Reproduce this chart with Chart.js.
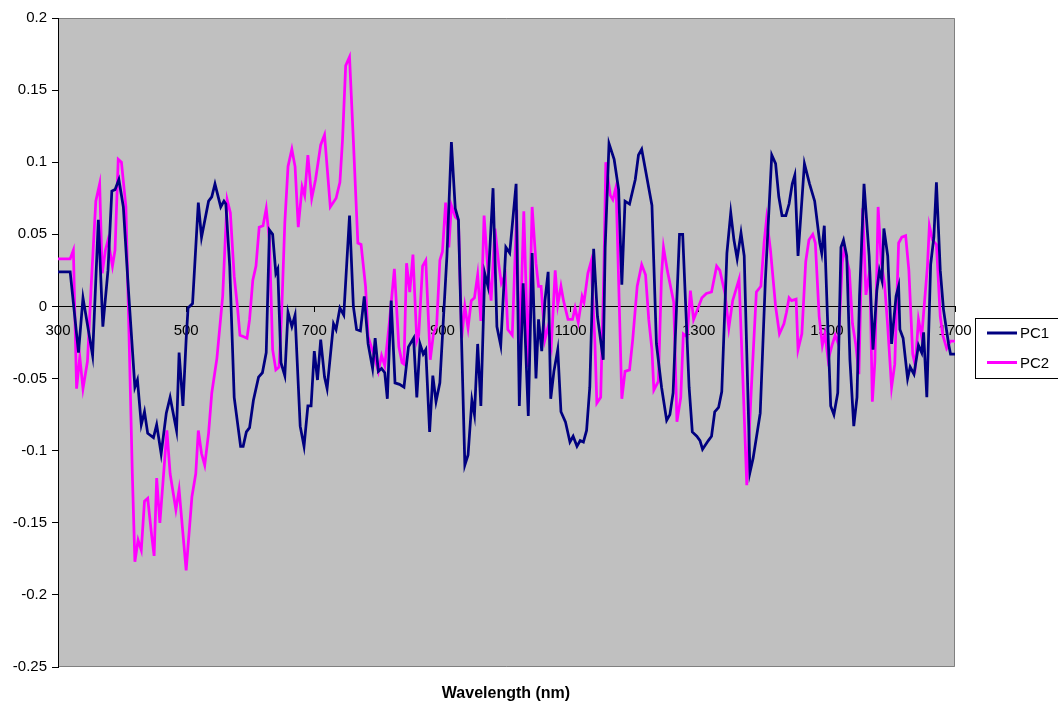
<!DOCTYPE html>
<html>
<head>
<meta charset="utf-8">
<script src="https://cdn.jsdelivr.net/npm/chart.js@4/dist/chart.umd.min.js"></script>
<style>
html,body{margin:0;padding:0;background:#fff;}
canvas{display:block;}
</style>
</head>
<body>
<canvas id="c" width="1058" height="706"></canvas>
<script>
// ---- data ----
const pc1Wavelength = [300,319,332,339,354,363,370,378,384,389,395,402,410,420,424,430,435,440,449,454,461,469,475,485,489,495,500,503,510,519,524,535,540,545,554,559,562,568,575,585,589,594,599,605,613,619,625,630,635,640,643,648,654,659,665,670,678,684,690,695,700,705,710,716,720,730,734,740,746,755,761,766,772,778,784,791,795,800,805,810,814,820,826,833,840,847,855,860,865,870,874,880,885,890,896,907,914,920,925,930,935,940,946,950,955,960,966,971,979,985,991,999,1005,1015,1020,1026,1034,1040,1046,1050,1055,1060,1065,1069,1074,1080,1085,1092,1099,1104,1110,1115,1120,1125,1130,1136,1142,1151,1154,1160,1168,1175,1180,1185,1192,1201,1206,1211,1218,1227,1234,1242,1250,1255,1260,1270,1275,1285,1290,1297,1302,1306,1315,1320,1325,1331,1336,1344,1350,1355,1360,1366,1371,1380,1385,1396,1404,1414,1420,1425,1430,1436,1441,1446,1450,1455,1465,1473,1481,1489,1492,1496,1502,1506,1511,1517,1522,1526,1531,1536,1542,1547,1551,1558,1566,1572,1578,1582,1586,1589,1595,1601,1608,1612,1614,1619,1626,1630,1636,1643,1648,1651,1656,1662,1667,1671,1677,1682,1690,1693,1700];
const pc1Values = [0.024,0.024,-0.032,0.006,-0.034,0.060,-0.014,0.025,0.080,0.081,0.088,0.069,0.011,-0.056,-0.051,-0.082,-0.073,-0.088,-0.091,-0.082,-0.102,-0.074,-0.063,-0.086,-0.032,-0.069,-0.023,-0.001,0.002,0.072,0.048,0.073,0.076,0.085,0.069,0.073,0.071,0.028,-0.063,-0.097,-0.097,-0.087,-0.084,-0.065,-0.049,-0.046,-0.032,0.053,0.050,0.023,0.026,-0.039,-0.048,-0.004,-0.014,-0.006,-0.083,-0.097,-0.069,-0.069,-0.031,-0.051,-0.023,-0.049,-0.057,-0.012,-0.016,-0.001,-0.006,0.063,0.000,-0.016,-0.017,0.007,-0.026,-0.043,-0.022,-0.045,-0.043,-0.046,-0.064,0.004,-0.053,-0.054,-0.056,-0.028,-0.022,-0.063,-0.026,-0.033,-0.030,-0.087,-0.048,-0.066,-0.053,0.035,0.114,0.068,0.060,-0.026,-0.110,-0.103,-0.065,-0.075,-0.026,-0.069,0.023,0.014,0.082,-0.014,-0.027,0.041,0.037,0.085,-0.069,0.016,-0.076,0.037,-0.050,-0.009,-0.031,0.004,0.024,-0.064,-0.045,-0.030,-0.073,-0.080,-0.094,-0.090,-0.097,-0.093,-0.094,-0.086,-0.056,0.040,-0.007,-0.037,0.041,0.113,0.102,0.081,0.015,0.073,0.071,0.088,0.105,0.109,0.092,0.070,-0.026,-0.056,-0.079,-0.075,-0.060,0.050,0.050,-0.056,-0.087,-0.090,-0.093,-0.099,-0.093,-0.090,-0.073,-0.070,-0.059,0.037,0.065,0.046,0.033,0.051,0.035,-0.115,-0.105,-0.074,0.018,0.105,0.099,0.076,0.063,0.063,0.071,0.085,0.091,0.035,0.099,0.085,0.073,0.044,0.037,0.056,-0.021,-0.069,-0.075,-0.060,0.041,0.046,0.035,-0.037,-0.083,-0.063,0.007,0.085,0.035,-0.030,0.011,0.025,0.018,0.054,0.035,-0.026,0.007,0.014,-0.016,-0.022,-0.050,-0.042,-0.047,-0.027,-0.032,-0.018,-0.063,0.029,0.048,0.086,0.025,-0.002,-0.026,-0.033,-0.033];

const pc2Wavelength = [300,319,324,329,334,339,346,352,359,365,369,374,378,385,389,394,399,406,411,416,420,425,430,435,440,446,450,454,459,470,475,484,489,500,509,515,519,524,529,535,540,548,557,561,564,569,575,580,584,590,595,599,604,609,614,620,625,630,635,640,645,649,654,659,665,670,675,681,685,690,696,702,710,716,725,734,740,744,749,755,761,768,773,780,784,794,800,805,810,817,825,832,837,840,844,849,854,860,863,869,874,881,886,891,896,900,905,910,914,920,925,930,935,940,945,950,955,960,965,971,976,982,988,992,998,1002,1009,1016,1020,1027,1034,1040,1046,1050,1054,1060,1065,1070,1076,1080,1085,1089,1096,1103,1107,1112,1118,1121,1127,1132,1138,1141,1147,1152,1155,1162,1166,1171,1180,1185,1192,1197,1204,1211,1217,1222,1227,1230,1237,1242,1245,1251,1256,1261,1266,1272,1276,1282,1287,1292,1299,1305,1312,1320,1328,1333,1341,1347,1353,1363,1370,1375,1382,1390,1397,1402,1406,1412,1420,1426,1433,1437,1441,1445,1452,1455,1461,1467,1472,1478,1482,1488,1493,1497,1502,1508,1513,1518,1524,1527,1535,1540,1545,1550,1556,1561,1567,1571,1575,1580,1585,1590,1595,1601,1606,1612,1617,1623,1628,1634,1638,1643,1648,1657,1660,1665,1671,1677,1681,1687,1693,1700];
const pc2Values = [0.033,0.033,0.039,-0.057,-0.035,-0.057,-0.038,0.016,0.073,0.085,0.023,0.039,0.046,0.028,0.039,0.102,0.100,0.069,-0.023,-0.116,-0.177,-0.162,-0.169,-0.135,-0.133,-0.158,-0.173,-0.119,-0.150,-0.086,-0.116,-0.141,-0.127,-0.183,-0.132,-0.116,-0.086,-0.102,-0.110,-0.088,-0.060,-0.036,0.007,0.046,0.074,0.065,0.021,0.000,-0.020,-0.021,-0.022,-0.009,0.018,0.028,0.055,0.056,0.068,0.046,-0.030,-0.044,-0.042,-0.005,0.058,0.097,0.109,0.097,0.055,0.083,0.077,0.105,0.075,0.088,0.112,0.119,0.069,0.075,0.086,0.115,0.167,0.173,0.115,0.044,0.043,0.014,-0.021,-0.035,-0.045,-0.034,-0.041,-0.012,0.026,-0.028,-0.039,-0.040,0.030,0.010,0.036,-0.024,-0.020,0.028,0.032,-0.037,-0.019,-0.013,0.032,0.038,0.072,0.041,0.070,0.062,0.060,-0.022,0.000,-0.015,0.004,0.006,0.022,-0.010,0.063,0.025,0.004,0.054,0.029,0.016,0.022,-0.016,-0.020,0.067,-0.038,0.066,-0.042,0.069,0.030,0.014,0.014,-0.023,-0.014,-0.027,0.025,0.001,0.014,0.004,-0.009,-0.009,-0.001,-0.011,0.007,0.003,0.023,0.031,-0.025,-0.067,-0.063,0.025,0.100,0.077,0.074,0.083,-0.064,-0.045,-0.044,-0.023,0.014,0.029,0.022,-0.009,-0.030,-0.058,-0.052,0.022,0.041,0.025,0.014,0.003,-0.080,-0.063,-0.019,-0.021,0.011,-0.009,-0.001,0.006,0.009,0.010,0.028,0.025,0.009,-0.015,0.004,0.019,-0.063,-0.124,-0.058,0.010,0.014,0.044,0.061,0.039,0.000,-0.019,-0.012,-0.004,0.006,0.004,0.005,-0.030,-0.019,0.031,0.046,0.050,0.044,-0.007,-0.027,-0.019,-0.037,-0.027,-0.020,-0.026,0.030,0.040,0.025,-0.012,-0.026,-0.047,0.068,0.008,0.025,-0.066,-0.038,0.069,0.030,0.016,-0.014,-0.056,-0.040,0.044,0.048,0.049,0.025,-0.033,-0.041,-0.009,-0.021,0.028,0.056,0.046,0.043,-0.007,-0.020,-0.029,-0.024,-0.024];

const xTicks = [300,500,700,900,1100,1300,1500,1700];
const yTicks = [0.2,0.15,0.1,0.05,0,-0.05,-0.1,-0.15,-0.2,-0.25];
const seriesNames = ['PC1','PC2'];
const seriesColors = ['#000080','#FF00FF'];
const xTitle = 'Wavelength (nm)';

// ---- layout targets ----
const AREA = {left:58, top:18, right:955, bottom:667};
const FONT = '"Liberation Sans", Arial, sans-serif';

function toPoints(xs, ys){ return xs.map((x,i)=>({x:x, y:ys[i]})); }
function fmt(v){ const r = Math.round(v*100)/100; return (Object.is(r,-0)?0:r).toString(); }

const bgPlugin = {
  id:'plotBg',
  beforeDraw(chart){
    const {ctx, chartArea:a} = chart;
    ctx.save();
    ctx.fillStyle = '#C0C0C0';
    ctx.fillRect(a.left, a.top, a.right-a.left, a.bottom-a.top);
    ctx.strokeStyle = '#808080';
    ctx.lineWidth = 1;
    ctx.beginPath();
    ctx.moveTo(a.left, a.top+0.5); ctx.lineTo(a.right-0.5, a.top+0.5);
    ctx.lineTo(a.right-0.5, a.bottom-0.5); ctx.lineTo(a.left, a.bottom-0.5);
    ctx.stroke();
    ctx.restore();
  },
  afterDraw(chart){
    const {ctx} = chart;
    ctx.save();
    // x axis title
    ctx.fillStyle = '#000';
    ctx.font = 'bold 16px ' + FONT;
    ctx.textAlign = 'center';
    ctx.textBaseline = 'middle';
    ctx.fillText(xTitle, 506, 694);
    // legend
    const lx = 975.5, ly = 318.5, lw = 100, lh = 60;
    ctx.fillStyle = '#fff';
    ctx.fillRect(lx, ly, lw, lh);
    ctx.strokeStyle = '#000';
    ctx.lineWidth = 1;
    ctx.strokeRect(lx, ly, lw, lh);
    ctx.font = '15px ' + FONT;
    ctx.textAlign = 'left';
    seriesNames.forEach((n,i)=>{
      const y = 333 + i*29.5;
      ctx.strokeStyle = seriesColors[i];
      ctx.lineWidth = 3;
      ctx.beginPath(); ctx.moveTo(987, y); ctx.lineTo(1017, y); ctx.stroke();
      ctx.fillStyle = '#000';
      ctx.fillText(n, 1020, y+1);
    });
    ctx.restore();
  }
};

const chart = new Chart(document.getElementById('c'), {
  type:'line',
  data:{
    datasets:[
      {label:seriesNames[0], data:toPoints(pc1Wavelength, pc1Values), borderColor:seriesColors[0], borderWidth:2.75, pointRadius:0, tension:0, fill:false},
      {label:seriesNames[1], data:toPoints(pc2Wavelength, pc2Values), borderColor:seriesColors[1], borderWidth:2.75, pointRadius:0, tension:0, fill:false}
    ]
  },
  options:{
    responsive:false,
    animation:false,
    devicePixelRatio:1,
    layout:{padding:{left:0, top:AREA.top, right:1058-AREA.right, bottom:706-AREA.bottom}},
    plugins:{legend:{display:false}, tooltip:{enabled:false}},
    scales:{
      x:{
        type:'linear', position:{y:0}, min:300, max:1700,
        afterBuildTicks(s){ s.ticks = xTicks.map(v=>({value:v})); },
        ticks:{color:'#000', font:{family:FONT, size:15}, padding:10, maxRotation:0, autoSkip:false, callback:(v)=>String(v)},
        grid:{display:true, drawOnChartArea:false, drawTicks:true, tickLength:5, color:'#000'},
        border:{display:true, color:'#000', width:1}
      },
      y:{
        type:'linear', position:'left', min:-0.25, max:0.2,
        afterBuildTicks(s){ s.ticks = yTicks.map(v=>({value:v})); },
        afterFit(s){ s.width = AREA.left; },
        ticks:{color:'#000', font:{family:FONT, size:15}, padding:5, autoSkip:false, callback:(v)=>fmt(v)},
        grid:{display:true, drawOnChartArea:false, drawTicks:true, tickLength:6, color:'#000'},
        border:{display:true, color:'#000', width:1}
      }
    }
  },
  plugins:[bgPlugin]
});

// align plot area with target rectangle
(function fit(){
  const a = chart.chartArea, p = chart.options.layout.padding;
  p.top += AREA.top - a.top;
  p.bottom += a.bottom - AREA.bottom;
  p.right += a.right - AREA.right;
  p.left += AREA.left - a.left;
  chart.update('none');
})();
</script>
</body>
</html>
